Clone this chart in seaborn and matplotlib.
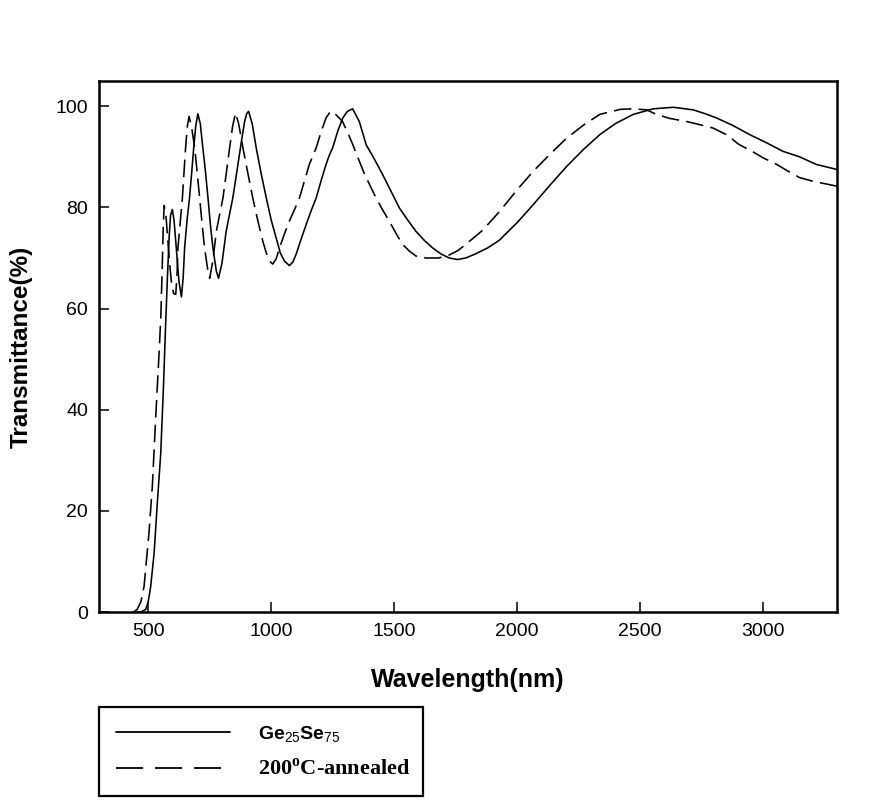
import matplotlib
matplotlib.use("Agg")
import matplotlib.pyplot as plt
from matplotlib.lines import Line2D
import seaborn as sns
import pandas as pd

# ---- data ----
wl_asdep = [455, 470, 490, 500, 510, 524, 537, 551, 562, 571, 578, 585, 591, 598, 605, 612, 619, 625,
            635, 642, 648, 658, 668, 677, 685, 693, 702, 712, 722, 733, 743, 753, 763, 777, 786, 800,
            817, 830, 844, 857, 871, 882, 892, 900, 908, 923, 939, 960, 980, 1000, 1020, 1037, 1054,
            1074, 1088, 1101, 1120, 1142, 1162, 1183, 1203, 1223, 1236, 1250, 1270, 1291, 1310, 1331,
            1358, 1386, 1420, 1453, 1487, 1521, 1555, 1588, 1622, 1656, 1690, 1724, 1757, 1791, 1830,
            1880, 1927, 2000, 2066, 2135, 2201, 2270, 2336, 2400, 2472, 2553, 2634, 2715, 2760, 2810,
            2877, 2945, 3013, 3080, 3148, 3216, 3300]
t_asdep = [0, 0, 0.5, 2, 5, 11.6, 21.5, 31.4, 44.5, 57, 66, 74, 78.5, 79.6, 77.5, 73.3, 69, 65.4,
           62.3, 66, 72, 77.5, 81.9, 87, 91.8, 96, 98.5, 96.5, 91.8, 87, 81.9, 76.5, 72, 67.4, 66, 69,
           75.3, 78.5, 81.9, 86, 90.5, 94, 97, 98.5, 99, 96.5, 91.8, 86.5, 81.9, 77.5, 74, 71, 69.4,
           68.5, 69.2, 70.7, 73.5, 76.6, 79.3, 81.9, 85.3, 88.5, 90.3, 91.8, 95, 97.7, 99, 99.5,
           97, 92.4, 89.5, 86.5, 83.2, 79.9, 77.5, 75.3, 73.5, 72, 70.8, 70, 69.7, 70, 70.8,
           72, 73.5, 77, 80.6, 84.5, 88.1, 91.5, 94.4, 96.6, 98.4, 99.5, 99.8, 99.3, 98.6, 97.7,
           96.2, 94.4, 92.8, 91.1, 90, 88.5, 87.5]

wl_anneal = [440, 455, 470, 483, 503, 517, 530, 544, 551, 557, 561, 565, 572, 580, 587, 594, 603, 612,
             617, 621, 630, 639, 645, 652, 659, 666, 676, 689, 699, 709, 719, 729, 743, 750, 763, 777,
             790, 804, 818, 831, 843, 855, 868, 885, 905, 925, 945, 966, 980, 993, 1006, 1020, 1034,
             1054, 1074, 1095, 1115, 1135, 1155, 1170, 1183, 1203, 1223, 1237, 1250, 1290, 1318, 1331,
             1380, 1426, 1453, 1480, 1507, 1534, 1561, 1588, 1630, 1680, 1720, 1760, 1791, 1860, 1930,
             2000, 2066, 2135, 2201, 2270, 2336, 2420, 2470, 2526, 2566, 2620, 2688, 2756, 2796, 2850,
             2900, 2958, 3000, 3055, 3100, 3148, 3200, 3250, 3300]
t_anneal = [0, 0.5, 2, 5, 15.5, 25, 38, 51, 58, 68, 76, 80.4, 78.5, 73.3, 69, 65.4, 63, 62.8,
            66.5, 72, 77, 81.9, 86.5, 91.8, 96, 98, 96, 91.8, 87, 81.9, 76.8, 72, 67.4, 66, 69.5, 75.3,
            78.5, 81.9, 87, 91.8, 96, 98.7, 96.5, 91.8, 86.8, 81.9, 77.5, 73.3, 71, 69.4, 68.8, 69.8, 72,
            74.8, 77.3, 79.6, 81.9, 85.2, 88.5, 90.3, 91.8, 95, 97.7, 98.7, 99, 97, 94, 92.5,
            86.5, 81.9, 79.5, 77.3, 74.9, 72.7, 71.4, 70.4, 70, 70, 70.5, 71.5, 72.7, 75.5, 79.3,
            83.5, 87.2, 90.6, 93.7, 96.3, 98.4, 99.4, 99.5, 99.3, 98.4, 97.6, 97, 96.2, 95.7, 94.4,
            92.5, 91, 89.8, 88.5, 87.2, 85.9, 85.2, 84.7, 84.2]

x_ticks = [500, 1000, 1500, 2000, 2500, 3000]
y_ticks = [0, 20, 40, 60, 80, 100]
label_asdep = r"$\mathbf{Ge}_{\mathsf{25}}\mathbf{Se}_{\mathsf{75}}$"
label_anneal = r"200$^{\mathrm{o}}$C-annealed"

# ---- styling ----
sns.set_style("ticks")
plt.rcParams["font.family"] = ["Liberation Sans", "DejaVu Sans"]
plt.rcParams["mathtext.fontset"] = "custom"
plt.rcParams["mathtext.bf"] = "Liberation Sans:bold"
plt.rcParams["mathtext.sf"] = "Liberation Sans"
plt.rcParams["mathtext.it"] = "Liberation Sans"
plt.rcParams["mathtext.rm"] = "Liberation Serif:bold"
plt.rcParams["text.color"] = "black"
plt.rcParams["axes.labelcolor"] = "black"

df_a = pd.DataFrame({"wl": wl_asdep, "T": t_asdep})
df_b = pd.DataFrame({"wl": wl_anneal, "T": t_anneal})

fig = plt.figure(figsize=(8.8, 8.05), dpi=100)
ax = fig.add_axes([99 / 880, 1 - 612 / 805, (837 - 99) / 880, (612 - 81) / 805])

lw = 1.15
sns.lineplot(data=df_a, x="wl", y="T", ax=ax, color="black", linewidth=lw,
             estimator=None, sort=False)
sns.lineplot(data=df_b, x="wl", y="T", ax=ax, color="black", linewidth=lw,
             estimator=None, sort=False, linestyle=(0, (11, 4.5)))

ax.set_xlim(300, 3300)
ax.set_ylim(0, 105)
ax.set_xticks(x_ticks)
ax.set_yticks(y_ticks)
ax.tick_params(direction="in", length=7, width=1.1, labelsize=14, pad=8, colors="black")
for s in ax.spines.values():
    s.set_linewidth(1.8)
    s.set_color("black")

ax.set_xlabel("Wavelength(nm)", fontsize=18, fontweight="bold", labelpad=20)
ax.set_ylabel("Transmittance(%)", fontsize=17.5, fontweight="bold", labelpad=16)

handles = [Line2D([], [], color="black", linewidth=1.3),
           Line2D([], [], color="black", linewidth=1.3, linestyle=(0, (15, 6.6)))]
leg = fig.legend(handles, [label_asdep, label_anneal],
                 loc="upper left",
                 bbox_to_anchor=(99 / 880, 1 - 798 / 805, (423 - 99) / 880, (798 - 707) / 805),
                 mode="expand", borderaxespad=0, borderpad=0.85, handlelength=5.9,
                 handletextpad=1.45, labelspacing=0.75, fontsize=14, fancybox=False,
                 edgecolor="black", framealpha=1)
leg.get_frame().set_linewidth(1.6)
t1, t2 = leg.get_texts()
t2.set_fontfamily("Liberation Serif")
t2.set_fontweight("bold")
t2.set_fontsize(16)

fig.savefig("out.png", dpi=100)
